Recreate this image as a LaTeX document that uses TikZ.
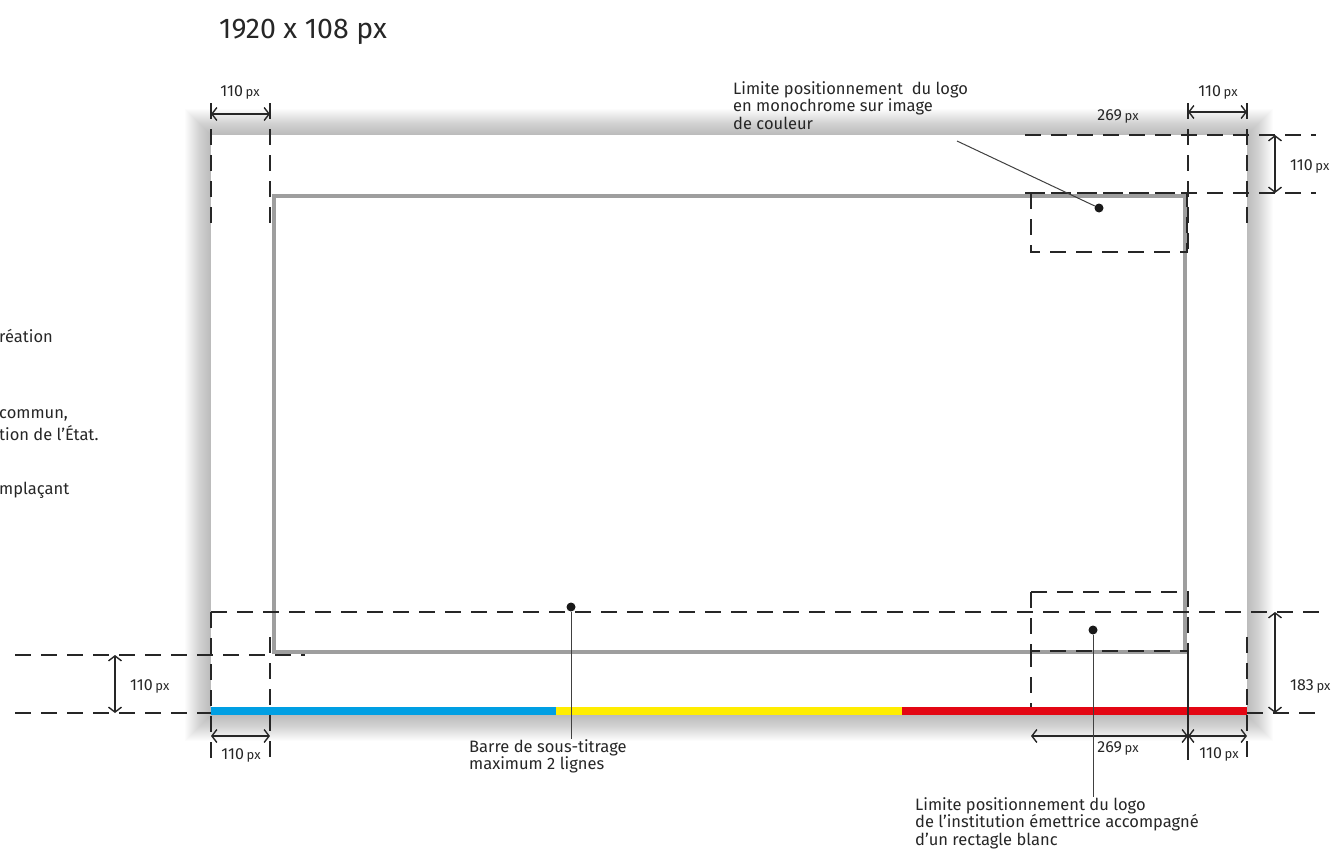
\documentclass[tikz,border=0pt]{standalone}
\usepackage{fontspec}
\setmainfont{Fira Sans}
\usetikzlibrary{arrows.meta}
\definecolor{bleu}{HTML}{009FE3}\definecolor{jaune}{HTML}{FFED00}\definecolor{rouge}{HTML}{E30613}
\tikzset{dl/.style={draw=black!85,line width=1.4pt,dash pattern=on 16pt off 10pt},
 dm/.style={draw=black!85,line width=1.4pt,{Straight Barb[length=5pt,width=13pt]}-{Straight Barb[length=5pt,width=13pt]}},
 lbl/.style={font=\fontsize{16}{17}\selectfont,inner sep=0pt,text=black!85},
 nt/.style={align=left,font=\fontsize{16.5}{17.5}\selectfont,inner sep=0pt,anchor=north west,text=black!85},
 ld/.style={draw=black!75,line width=1pt},pt/.style={circle,fill=black!90,inner sep=0pt,minimum size=9pt}}
\newcommand{\dpx}[1]{#1\,{\fontsize{13}{13}\selectfont px}}

\begin{document}
\begin{tikzpicture}[x=1pt,y=-1pt]
\useasboundingbox (0,0) rectangle (1337,859);
% ecran + ombre + bandeau
\foreach \i in {1,...,26}{\fill[black,opacity=0.011](211-\i,135-\i) rectangle (1247+\i,715+\i);}
\fill[white](211,135) rectangle (1247,715);
\draw[black!38,line width=4pt](274,196) rectangle (1185,652);
\fill[bleu](211,707) rectangle (556,715);\fill[jaune](556,707) rectangle (902,715);\fill[rouge](902,707) rectangle (1247,715);
% textes coupes a gauche
\node[nt,anchor=west](g1) at (-1,336){réation};\node[nt,anchor=west](g2) at (-1,415){commun,};
\node[nt,anchor=west](g3) at (-1,433){tion de l’État.};\node[nt,anchor=west](g4) at (-1,490){mplaçant};
\node[anchor=west,inner sep=0pt,font=\fontsize{28.5}{30}\selectfont,text=black!85](titre) at (219,32){1920 x 108 px};
% reperes
\draw[dl](211,103)--(211,228);\draw[dl](270,103)--(270,228);
\draw[dl](211,612)--(211,762);\draw[dl](270,637)--(270,762);
\draw[dl](15,655)--(305,655);\draw[dl](15,713)--(211,713);\draw[dl](211,612)--(1322,612);
\draw[dl](1025,135)--(1316,135);\draw[dl](1025,193)--(1316,193);\draw[dl](1031,193) rectangle (1187,252);
\draw[dl](1188,103)--(1188,252);\draw[dl](1247,103)--(1247,228);
\draw[dl](1031,592) rectangle (1188,651);\draw[dl](1031,651)--(1031,707);
\draw[black!85,line width=1.4pt](1188,651)--(1188,760);\draw[dl](1247,637)--(1247,760);\draw[dl](1247,713)--(1316,713);
% cotes
\coordinate(a1) at (211,114);\coordinate(a2) at (270,114);\coordinate(b1) at (1188,112);\coordinate(b2) at (1247,112);
\coordinate(c1) at (1275,135);\coordinate(c2) at (1275,193);\coordinate(d1) at (1275,612);\coordinate(d2) at (1275,713);
\coordinate(e1) at (115,655);\coordinate(e2) at (115,713);\coordinate(f1) at (211,736);\coordinate(f2) at (270,736);
\coordinate(h1) at (1031,736);\coordinate(h2) at (1188,736);\coordinate(h3) at (1247,736);
\draw[dm](a1)--(a2);\draw[dm](b1)--(b2);\draw[dm](c1)--(c2);\draw[dm](d1)--(d2);
\draw[dm](e1)--(e2);\draw[dm](f1)--(f2);\draw[dm](h1)--(h2);\draw[dm](h2)--(h3);
\node[lbl](la) at (240,92){\dpx{110}};\node[lbl](lb) at (1218,92){\dpx{110}};\node[lbl](lw1) at (1118,116){\dpx{269}};
\node[lbl,anchor=west](lc) at (1290,166){\dpx{110}};\node[lbl,anchor=west](ld) at (1290,686){\dpx{183}};
\node[lbl,anchor=west](le) at (130,686){\dpx{110}};\node[lbl](lf) at (241,755){\dpx{110}};
\node[lbl](lw2) at (1118,748){\dpx{269}};\node[lbl](lh) at (1219,754){\dpx{110}};
% notes
\node[nt](n1) at (733,81){Limite positionnement\ \ du logo\\en monochrome sur image\\de couleur};
\node[nt](n2) at (469,739){Barre de sous-titrage\\maximum 2 lignes};
\node[nt](n3) at (915,797){Limite positionnement du logo\\de l’institution émettrice accompagné\\d’un rectagle blanc};
\node[pt](p1) at (1099,208){};\node[pt](p2) at (571,607){};\node[pt](p3) at (1093,630){};
\coordinate(q1) at (957,141);
\draw[ld](q1)--(p1);\draw[ld](p2)--(p2|-n2.north);\draw[ld](p3)--(p3|-n3.north);
\end{tikzpicture}
\end{document}
